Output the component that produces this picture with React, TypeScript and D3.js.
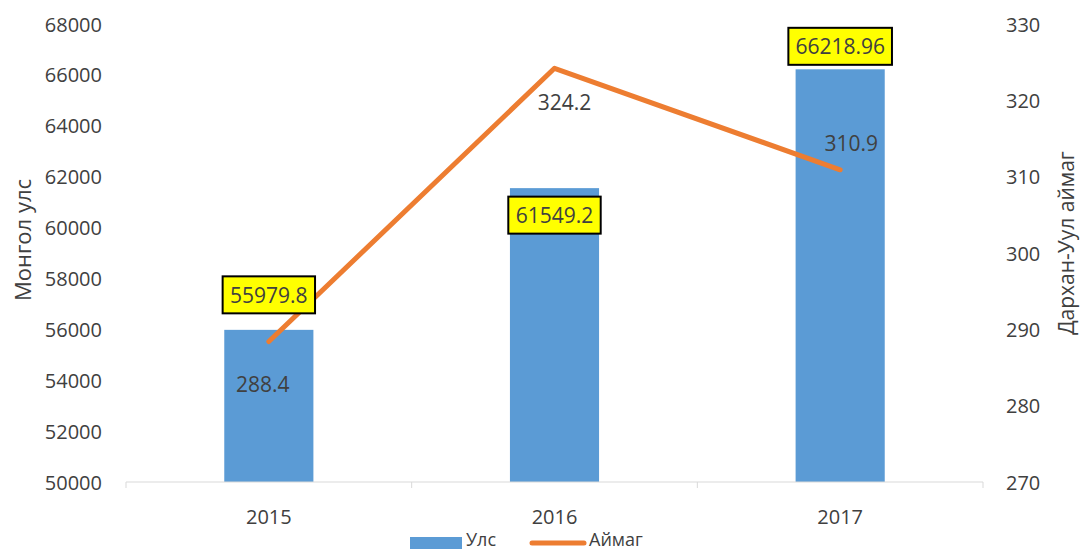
import React from "react";
import * as d3 from "d3";

const categories = ["2015", "2016", "2017"];
const ulsValues = [55979.8, 61549.2, 66218.96];
const ulsLabels = ["55979.8", "61549.2", "66218.96"];
const aimagValues = [288.4, 324.2, 310.9];
const aimagLabels = ["288.4", "324.2", "310.9"];
const leftTicks = [50000, 52000, 54000, 56000, 58000, 60000, 62000, 64000, 66000, 68000];
const rightTicks = [270, 280, 290, 300, 310, 320, 330];

// label offsets (style/placement, not data)
const barLabelDy = [-35, 27, -23];
const lineLabelOffset = [
  { dx: -6, dy: 42 },
  { dx: 10, dy: 34 },
  { dx: 11, dy: -27 },
];

const W = 1081;
const H = 552;
const left = 126;
const right = 983;
const top = 24;
const bottom = 482;
const FONT = "'Open Sans', 'Noto Sans', sans-serif";

export default function App() {
  const x = d3.scaleBand<string>().domain(categories).range([left, right]).padding(0);
  const yL = d3.scaleLinear().domain([50000, 68000]).range([bottom, top]);
  const yR = d3.scaleLinear().domain([270, 330]).range([bottom, top]);
  const bw = x.bandwidth() * 0.312;
  const cx = (c: string) => (x(c) as number) + x.bandwidth() / 2;

  const line = d3
    .line<number>()
    .x((_, i) => cx(categories[i]))
    .y((d) => yR(d));

  const boundaries = [...categories.map((c) => x(c) as number), right];

  return (
    <svg width={W} height={H} style={{ position: "absolute", left: 0, top: 0, background: "#fff" }}>
      {categories.map((c, i) => (
        <rect
          key={c}
          x={cx(c) - bw / 2}
          y={yL(ulsValues[i])}
          width={bw}
          height={bottom - yL(ulsValues[i])}
          fill="#5b9bd5"
        />
      ))}
      <line x1={left} x2={right} y1={bottom} y2={bottom} stroke="#d9d9d9" strokeWidth={1} />
      {boundaries.map((b, i) => (
        <line key={i} x1={b} x2={b} y1={bottom} y2={bottom + 6} stroke="#d9d9d9" strokeWidth={1} />
      ))}
      <path
        d={line(aimagValues) || ""}
        fill="none"
        stroke="#ed7d31"
        strokeWidth={5}
        strokeLinecap="round"
        strokeLinejoin="round"
      />
      {leftTicks.map((t) => (
        <text
          key={t}
          x={102}
          y={yL(t)}
          textAnchor="end"
          dominantBaseline="central"
          fontFamily={FONT}
          fontSize={20}
          fill="#404040"
        >
          {t}
        </text>
      ))}
      {rightTicks.map((t) => (
        <text
          key={t}
          x={1006}
          y={yR(t)}
          textAnchor="start"
          dominantBaseline="central"
          fontFamily={FONT}
          fontSize={20}
          fill="#404040"
        >
          {t}
        </text>
      ))}
      {categories.map((c) => (
        <text
          key={c}
          x={cx(c)}
          y={516}
          textAnchor="middle"
          dominantBaseline="central"
          fontFamily={FONT}
          fontSize={20}
          fill="#404040"
        >
          {c}
        </text>
      ))}
      <text
        transform={`translate(22,240) rotate(-90)`}
        textAnchor="middle"
        dominantBaseline="central"
        fontFamily={FONT}
        fontSize={22}
        fill="#404040"
      >
        Монгол улс
      </text>
      <text
        transform={`translate(1066,243) rotate(-90)`}
        textAnchor="middle"
        dominantBaseline="central"
        fontFamily={FONT}
        fontSize={21}
        fill="#404040"
      >
        Дархан-Уул аймаг
      </text>
      {categories.map((c, i) => {
        const ty = yL(ulsValues[i]) + barLabelDy[i];
        const tw = ulsLabels[i].length * 11.2;
        const bwid = tw + 14;
        return (
          <g key={c}>
            <rect
              x={cx(c) - bwid / 2}
              y={ty - 18.5}
              width={bwid}
              height={37}
              fill="#ffff00"
              stroke="#000"
              strokeWidth={2}
            />
            <text
              x={cx(c)}
              y={ty}
              textAnchor="middle"
              dominantBaseline="central"
              fontFamily={FONT}
              fontSize={21}
              fill="#404040"
            >
              {ulsLabels[i]}
            </text>
          </g>
        );
      })}
      {categories.map((c, i) => (
        <text
          key={c}
          x={cx(c) + lineLabelOffset[i].dx}
          y={yR(aimagValues[i]) + lineLabelOffset[i].dy}
          textAnchor="middle"
          dominantBaseline="central"
          fontFamily={FONT}
          fontSize={21}
          fill="#404040"
        >
          {aimagLabels[i]}
        </text>
      ))}
      <rect x={410} y={537} width={52} height={12} fill="#5b9bd5" />
      <text x={466} y={539} dominantBaseline="central" fontFamily={FONT} fontSize={18} fill="#404040">
        Улс
      </text>
      <line x1={532} x2={584} y1={543} y2={543} stroke="#ed7d31" strokeWidth={5} strokeLinecap="round" />
      <text x={589} y={539} dominantBaseline="central" fontFamily={FONT} fontSize={18} fill="#404040">
        Аймаг
      </text>
    </svg>
  );
}
